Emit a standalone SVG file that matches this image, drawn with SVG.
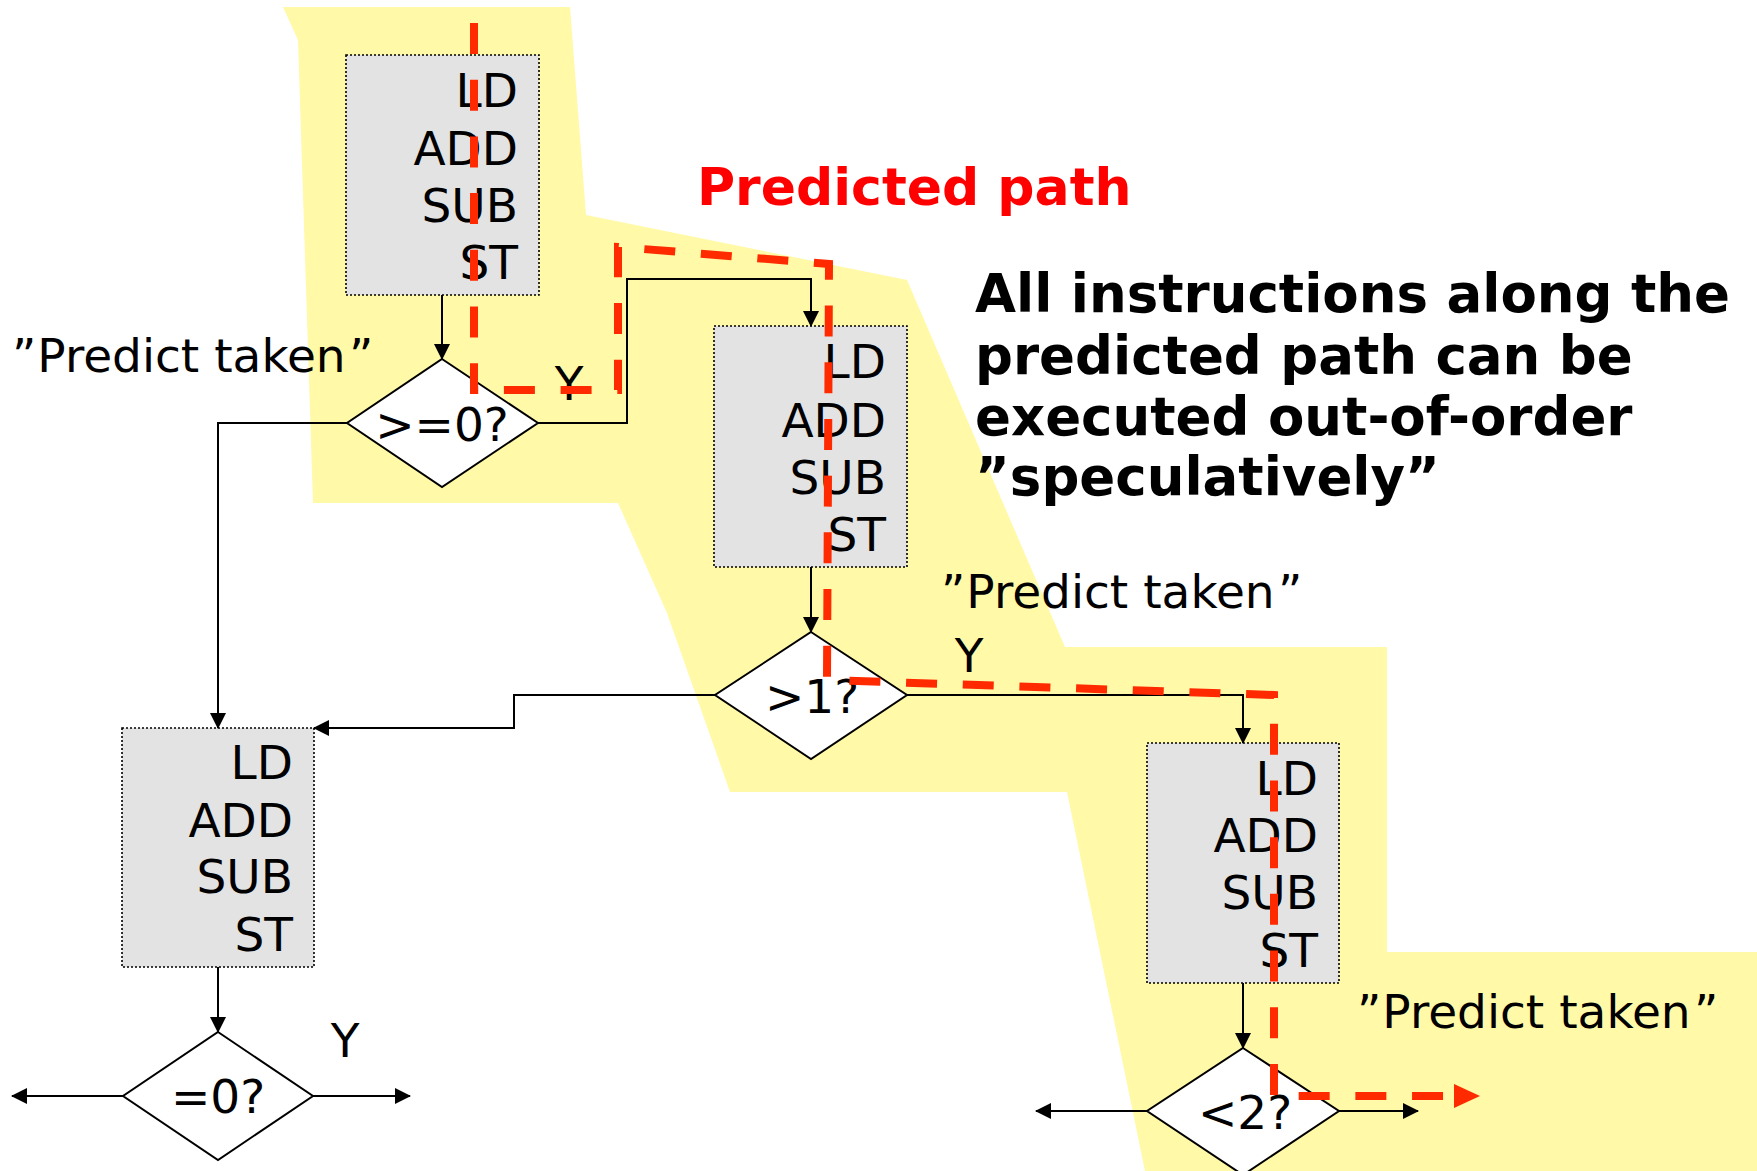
<svg xmlns="http://www.w3.org/2000/svg" width="1757" height="1171" viewBox="0 0 1757 1171">
  <style>
    .region { fill: #fff9a8; stroke: none; }
    .block { fill: #e3e3e3; stroke: #000; stroke-width: 1.6; stroke-dasharray: 2 2; }
    .cond { fill: #fff; stroke: #000; stroke-width: 2; }
    .txt { font-family: "DejaVu Sans", Verdana, sans-serif; font-size: 47px; fill: #000; }
    .ins { text-anchor: end; }
    .mid { text-anchor: middle; }
    .edge { fill: none; stroke: #000; stroke-width: 2; marker-end: url(#arrow); }
    .path { fill: none; stroke: #ff2a00; stroke-width: 8; stroke-dasharray: 31 25.7; marker-end: url(#redArrow); }
    .title { font-family: "DejaVu Sans", Verdana, sans-serif; font-weight: bold; font-size: 53px; }
    .heading { font-size: 52px; fill: #ff0000; }
  </style>
  <defs>
    <marker id="arrow" markerUnits="userSpaceOnUse" markerWidth="16" markerHeight="16" refX="15" refY="8" orient="auto" viewBox="0 0 16 16">
      <path d="M0,0 L16,8 L0,16 z" fill="#000"/>
    </marker>
    <marker id="redArrow" markerUnits="userSpaceOnUse" markerWidth="26" markerHeight="24" refX="4" refY="12" orient="auto" viewBox="0 0 26 24">
      <path d="M0,0 L26,12 L0,24 z" fill="#ff2a00"/>
    </marker>
  </defs>

  <!-- shaded speculative region -->
  <polygon class="region" points="283,7 570,7 586,215 907,280 1065,647 1387,647 1387,952 1757,952 1757,1171 1145,1171 1067,792 730,792 667,613 618,503 313,503 298,40"/>

  <!-- basic blocks -->
  <g id="block1">
    <rect class="block" x="346" y="55" width="193" height="240"/>
    <text class="txt ins" x="518" y="107">LD</text>
    <text class="txt ins" x="518" y="165">ADD</text>
    <text class="txt ins" x="518" y="222">SUB</text>
    <text class="txt ins" x="518" y="279">ST</text>
  </g>
  <g id="block2">
    <rect class="block" x="714" y="326" width="193" height="241"/>
    <text class="txt ins" x="886" y="378">LD</text>
    <text class="txt ins" x="886" y="437">ADD</text>
    <text class="txt ins" x="886" y="494">SUB</text>
    <text class="txt ins" x="886" y="551">ST</text>
  </g>
  <g id="block3">
    <rect class="block" x="1147" y="743" width="192" height="240"/>
    <text class="txt ins" x="1318" y="795">LD</text>
    <text class="txt ins" x="1318" y="852">ADD</text>
    <text class="txt ins" x="1318" y="909">SUB</text>
    <text class="txt ins" x="1318" y="967">ST</text>
  </g>
  <g id="block4">
    <rect class="block" x="122" y="728" width="192" height="239"/>
    <text class="txt ins" x="293" y="779">LD</text>
    <text class="txt ins" x="293" y="837">ADD</text>
    <text class="txt ins" x="293" y="893">SUB</text>
    <text class="txt ins" x="293" y="951">ST</text>
  </g>

  <!-- branch conditions -->
  <g id="cond1">
    <polygon class="cond" points="442,359 538,423 442,487 347,423"/>
    <text class="txt mid" x="442" y="441">&gt;=0?</text>
  </g>
  <g id="cond2">
    <polygon class="cond" points="811,632 907,695 811,759 715,695"/>
    <text class="txt mid" x="812" y="713">&gt;1?</text>
  </g>
  <g id="cond3">
    <polygon class="cond" points="1243,1048 1339,1111 1243,1175 1147,1111"/>
    <text class="txt mid" x="1245" y="1129">&lt;2?</text>
  </g>
  <g id="cond4">
    <polygon class="cond" points="218,1032 313,1096 218,1160 123,1096"/>
    <text class="txt mid" x="218" y="1113">=0?</text>
  </g>

  <!-- control-flow edges -->
  <g id="connectors">
    <path class="edge" d="M442,295 L442,359"/>
    <path class="edge" d="M538,423 L627,423 L627,279 L811,279 L811,326"/>
    <path class="edge" d="M347,423 L218,423 L218,728"/>
    <path class="edge" d="M811,567 L811,632"/>
    <path class="edge" d="M907,695 L1243,695 L1243,743"/>
    <path class="edge" d="M715,695 L514,695 L514,728 L314,728"/>
    <path class="edge" d="M218,967 L218,1032"/>
    <path class="edge" d="M123,1096 L12,1096"/>
    <path class="edge" d="M313,1096 L410,1096"/>
    <path class="edge" d="M1243,983 L1243,1048"/>
    <path class="edge" d="M1147,1111 L1036,1111"/>
    <path class="edge" d="M1339,1111 L1418,1111"/>
  </g>

  <!-- labels -->
  <g id="labels">
    <text class="txt" x="12" y="372">”<tspan dx="1">Predict taken</tspan><tspan dx="6">”</tspan></text>
    <text class="txt" x="941" y="608">”<tspan dx="1">Predict taken</tspan><tspan dx="6">”</tspan></text>
    <text class="txt" x="1357" y="1028">”<tspan dx="1">Predict taken</tspan><tspan dx="6">”</tspan></text>
    <text class="txt mid" x="569" y="400">Y</text>
    <text class="txt mid" x="969" y="672">Y</text>
    <text class="txt mid" x="345" y="1057">Y</text>
    <text class="title heading" x="697" y="205">Predicted path</text>
    <text class="title" fill="#000">
      <tspan x="975" y="312">All instructions along the</tspan>
      <tspan x="975" y="374">predicted path can be</tspan>
      <tspan x="975" y="435">executed out-of-order</tspan>
      <tspan x="975" y="495">”speculatively”</tspan>
    </text>
  </g>

  <!-- predicted execution path -->
  <g id="predicted-path">
    <path class="path" d="M474,23 L474,390 L618,390 L618,247 L829,264 L827,680 L1274,695 L1274,1096 L1458,1096"/>
  </g>
</svg>
